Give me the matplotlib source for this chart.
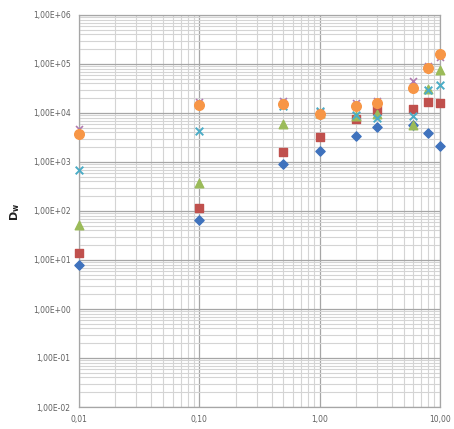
import matplotlib
matplotlib.use("Agg")
import matplotlib.pyplot as plt
from matplotlib.ticker import LogLocator, FixedLocator, NullFormatter

x = [0.01, 0.1, 0.5, 1, 2, 3, 6, 8, 10]

s_blue = [8, 66, 910, 1660, 3400, 5200, 5600, 3900, 2100]
s_red = [14, 115, 1600, 3200, 7600, 11500, 12000, 16500, 15800]
s_green = [52, 375, 6000, 10000, 8500, 9500, 5800, 31000, 76000]
s_purple = [4800, 16500, 17500, 10500, 16000, 17500, 45000, 90000, 140000]
s_cyan = [690, 4300, 14000, 11000, 9000, 8000, 8700, 30000, 37000]
s_orange = [3700, 14500, 15000, 9500, 13800, 16000, 32500, 83000, 158000]

x_ticks = [0.01, 0.1, 1, 10]
x_labels = ["0,01", "0,10", "1,00", "10,00"]
y_ticks = [1e-2, 1e-1, 1e0, 1e1, 1e2, 1e3, 1e4, 1e5, 1e6]
y_labels = ["1,00E-02", "1,00E-01", "1,00E+00", "1,00E+01", "1,00E+02",
            "1,00E+03", "1,00E+04", "1,00E+05", "1,00E+06"]

fig = plt.figure(figsize=(4.54, 4.29), dpi=100)
ax = fig.add_axes([79/454, 1-407/429, (440-79)/454, (407-15)/429])
ax.set_xscale("log")
ax.set_yscale("log")
ax.set_xlim(0.01, 10)
ax.set_ylim(1e-2, 1e6)

ax.set_axisbelow(True)
ax.xaxis.set_minor_locator(LogLocator(base=10, subs=range(2, 10), numticks=20))
ax.yaxis.set_minor_locator(LogLocator(base=10, subs=range(2, 10), numticks=20))
ax.xaxis.set_minor_formatter(NullFormatter())
ax.yaxis.set_minor_formatter(NullFormatter())
ax.grid(which="major", color="#a6a6a6", linewidth=0.9)
ax.grid(which="minor", color="#d4d4d4", linewidth=0.8)

ax.xaxis.set_major_locator(FixedLocator(x_ticks))
ax.set_xticklabels(x_labels)
ax.yaxis.set_major_locator(FixedLocator(y_ticks))
ax.set_yticklabels(y_labels)
ax.tick_params(which="both", length=0, labelsize=5.5, labelcolor="#606060", pad=6)

for sp in ax.spines.values():
    sp.set_color("#a6a6a6")
    sp.set_linewidth(0.9)

ax.scatter(x, s_blue, marker="D", s=22, color="#3f72bd", zorder=3, clip_on=False)
ax.scatter(x, s_red, marker="s", s=40, color="#c0504d", zorder=3, clip_on=False)
ax.scatter(x, s_green, marker="^", s=38, color="#9bbb59", zorder=3, clip_on=False)
ax.scatter(x, s_purple, marker="x", s=25, color="#b07ab0", linewidths=1.2, zorder=3, clip_on=False)
ax.scatter(x, s_cyan, marker="x", s=30, color="#4bacc6", linewidths=1.4, zorder=3, clip_on=False)
ax.scatter(x, s_orange, marker="o", s=48, color="#f79646", zorder=4, clip_on=False)

fig.text(15/454, 1-212/429, r"$\mathbf{D_w}$", rotation=90, fontsize=8,
         ha="center", va="center", color="#202020")

fig.savefig("out.png", dpi=100)
